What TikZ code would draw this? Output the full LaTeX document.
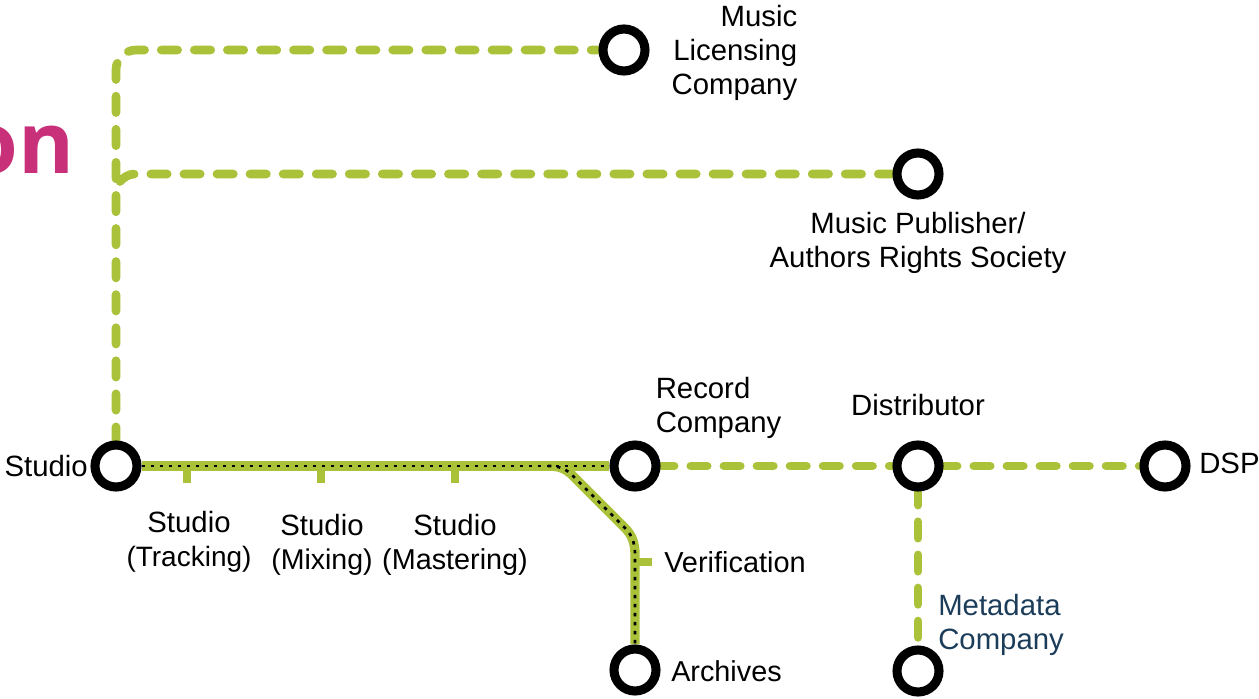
\documentclass[tikz,border=0pt]{standalone}
\usepackage{fontspec}
\usetikzlibrary{backgrounds}
\setmainfont{Liberation Sans}
\newfontfamily\titlefont{Open Sans}
\definecolor{linegreen}{HTML}{AAC13A}
\definecolor{titlepink}{HTML}{C9307A}
\definecolor{navy}{HTML}{1C3D5A}
\newcommand{\sizedline}[2]{{\fontsize{#1}{25.5}\selectfont #2}}
\tikzset{
  hub/.style={circle,draw=black,fill=white,line width=6.8pt,minimum size=31.5pt,inner sep=0pt},
  label/.style={inner sep=0pt,font=\fontsize{22}{25.5}\selectfont,text=black},
  dashline/.style={draw=linegreen,line width=6.5pt,line cap=round,dash pattern=on 12.3pt off 12.5pt,dash phase=2.1pt},
  branchline/.style={draw=linegreen,line width=6.5pt,line cap=round,dash pattern=on 12.3pt off 12.5pt},
  solidline/.style={draw=linegreen,line width=7pt},
  dotline/.style={draw=black,line width=2pt,dash pattern=on 2.6pt off 4.15pt},
  tick/.style={draw=linegreen,line width=6.3pt},
}
\begin{document}
\begin{tikzpicture}[x=0.75pt,y=-0.75pt]
\useasboundingbox (0,0) rectangle (1259,699);
% hubs
\node[hub] (studio) at (116,466) {};
\node[hub] (licensing) at (624,50) {};
\node[hub] (publisher) at (918,174) {};
\node[hub] (record) at (635,466) {};
\node[hub] (distributor) at (918,466) {};
\node[hub] (dsp) at (1165,466) {};
\node[hub] (archives) at (635,670) {};
\node[hub] (metadata) at (918,671) {};
% free ends
\coordinate (bend1) at (116,50);
\coordinate (branchfoot) at (120,181.5);
\coordinate (branchtop) at (135,174);
\coordinate (split) at (548,466);
\coordinate (diagA) at (572,475);
\coordinate (diagB) at (625,528);
\coordinate (vertA) at (635,555);
\coordinate (tick1) at (187,466);
\coordinate (tick1e) at (187,483);
\coordinate (tick2) at (321,466);
\coordinate (tick2e) at (321,483);
\coordinate (tick3) at (455,466);
\coordinate (tick3e) at (455,483);
\coordinate (tick4) at (635,562);
\coordinate (tick4e) at (652,562);
% connectors
\begin{pgfonlayer}{background}
\draw[dashline,rounded corners=15pt] (studio.north) -- (bend1) -- (licensing.west);
\draw[branchline] (branchfoot) .. controls (124,177) and (129,174) .. (branchtop) -- (publisher.west);
\draw[dashline] (record.east) -- (distributor.west);
\draw[dashline] (distributor.east) -- (dsp.west);
\draw[dashline] (distributor.south) -- (metadata.north);
\draw[tick] (tick1) -- (tick1e);
\draw[tick] (tick2) -- (tick2e);
\draw[tick] (tick3) -- (tick3e);
\draw[tick] (tick4) -- (tick4e);
\draw[solidline] (studio.east) -- (record.west);
\draw[solidline] (split) .. controls (558,466) and (565,468) .. (diagA) -- (diagB) .. controls (632,535) and (635,543) .. (vertA) -- (archives.north);
\draw[dotline] (studio.east) -- (record.west);
\draw[dotline] (split) .. controls (558,466) and (565,468) .. (diagA) -- (diagB) .. controls (632,535) and (635,543) .. (vertA) -- (archives.north);
\end{pgfonlayer}
% labels
\node[inner sep=0pt,anchor=base east,text=titlepink,font=\titlefont\bfseries\fontsize{64}{64}\selectfont] (title) at (75,173) {on};
\node[label,align=right,anchor=east] (tlicensing) at (797.5,53) {Music\\Licensing\\Company};
\node[label,align=center,anchor=center] (tpublisher) at (918,243) {Music Publisher/\\Authors Rights Society};
\node[label,align=left,anchor=west] (trecord) at (655.5,408) {Record\\Company};
\node[label,anchor=center] (tdistributor) at (918,405) {Distributor};
\node[label,anchor=west] (tdsp) at (1199,463) {DSP};
\node[label,anchor=east] (tstudio) at (88,466) {Studio};
\node[label,align=center] (ttracking) at (189,542) {Studio\\\sizedline{21}{(Tracking)}};
\node[label,align=center] (tmixing) at (322,545) {Studio\\\sizedline{21.4}{(Mixing)}};
\node[label,align=center] (tmastering) at (455,545) {Studio\\\sizedline{21.6}{(Mastering)}};
\node[label,anchor=west,font=\fontsize{21.7}{25.5}\selectfont] (tverification) at (664,562) {Verification};
\node[label,anchor=west,font=\fontsize{21.6}{25.5}\selectfont] (tarchives) at (671,671) {Archives};
\node[label,align=left,anchor=west,text=navy] (tmetadata) at (938,625) {Metadata\\Company};
\end{tikzpicture}
\end{document}
